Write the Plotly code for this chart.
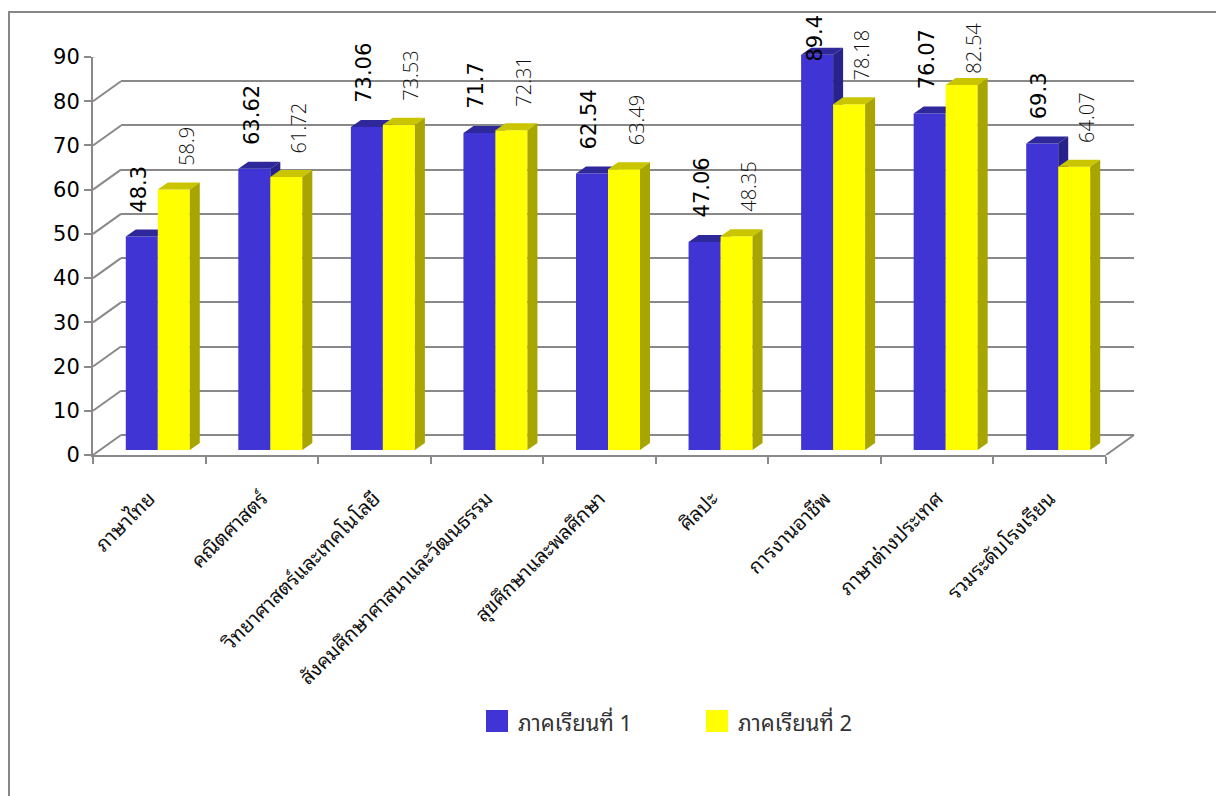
import plotly.graph_objects as go

# ---------------- data ----------------
categories = ["ภาษาไทย", "คณิตศาสตร์", "วิทยาศาสตร์และเทคโนโลยี",
              "สังคมศึกษาศาสนาและวัฒนธรรม", "สุขศึกษาและพลศึกษา", "ศิลปะ",
              "การงานอาชีพ", "ภาษาต่างประเทศ", "รวมระดับโรงเรียน"]
term1 = [48.3, 63.62, 73.06, 71.7, 62.54, 47.06, 89.4, 76.07, 69.3]
term2 = [58.9, 61.72, 73.53, 72.31, 63.49, 48.35, 78.18, 82.54, 64.07]
series_names = ["ภาคเรียนที่ 1", "ภาคเรียนที่ 2"]
y_ticks = list(range(0, 91, 10))

# ---------------- style / geometry ----------------
W, H = 1216, 796
PX_Y = 398 / 90.0          # pixels per value unit
PX_X = 1013 / 9.0          # pixels per category
FRONT = (93, 455)          # front plane origin (px)
BACK = (121, 435)          # back wall origin (px)
MID = (101.5, 450)         # plane the bars stand on (px)

BLUE = dict(front="#4034D4", top="#2E289A", side="#28238A")
YEL = dict(front="#FFFF00", top="#C9C500", side="#A8A400")
GRID = "#898989"
THAI = ("Tahoma, 'Noto Sans Thai Looped', Loma, Garuda, Waree, Norasi, "
        "'Noto Sans Thai', 'Leelawadee UI', sans-serif")
NUM = "'DejaVu Sans', sans-serif"

bw = 32 / PX_X             # bar width in category units
dx = 10 / PX_X             # depth offset x
dy = 7 / PX_Y              # depth offset y

def px_domain_x(x0, units):
    return [x0 / W, (x0 + units * PX_X) / W]

def px_domain_y(y0, units):
    return [1 - y0 / H, 1 - (y0 - units * PX_Y) / H]

fig = go.Figure()

def faces(vals, left_off):
    fx, fy, tx, ty, sx, sy = [], [], [], [], [], []
    for i, v in enumerate(vals):
        a = i + left_off
        b = a + bw
        fx += [a, a, b, b, a, None]; fy += [0, v, v, 0, 0, None]
        tx += [a, b, b + dx, a + dx, a, None]; ty += [v, v, v + dy, v + dy, v, None]
        sx += [b, b, b + dx, b + dx, b, None]; sy += [0, v, v + dy, dy, 0, None]
    return (fx, fy), (tx, ty), (sx, sy)

for vals, off, col, name in [(term1, -bw, BLUE, series_names[0]),
                             (term2, 0.0, YEL, series_names[1])]:
    fr, tp, sd = faces(vals, off)
    for (xs, ys), c in [(fr, col["front"]), (tp, col["top"]), (sd, col["side"])]:
        fig.add_trace(go.Scatter(x=xs, y=ys, xaxis="x3", yaxis="y3", mode="lines",
                                 fill="toself", fillcolor=c, line=dict(width=0),
                                 hoverinfo="skip", showlegend=False, name=name))

# invisible traces to establish the category axis and the back-wall subplot
fig.add_trace(go.Scatter(x=categories, y=term1, xaxis="x", yaxis="y", mode="markers",
                         marker=dict(opacity=0), hoverinfo="skip", showlegend=False))
fig.add_trace(go.Scatter(x=list(range(len(categories))), y=term2, xaxis="x2", yaxis="y2",
                         mode="markers", marker=dict(opacity=0), hoverinfo="skip",
                         showlegend=False))

# ---------------- axes ----------------
fig.update_layout(
    width=W, height=H, autosize=False,
    margin=dict(l=0, r=0, t=0, b=0, pad=0, autoexpand=False),
    paper_bgcolor="white", plot_bgcolor="rgba(0,0,0,0)",
    hovermode=False, showlegend=False,
    xaxis=dict(domain=px_domain_x(FRONT[0], 9), range=[-0.5, 8.5], type="category",
               anchor="y", showline=True, linecolor=GRID, linewidth=2,
               ticks="outside", ticklen=7, tickcolor=GRID, tickwidth=2,
               tickson="boundaries", tickangle=-45, showgrid=False, automargin=False,
               ticklabelstandoff=22,
               tickfont=dict(family=THAI, size=20, color="#111111")),
    yaxis=dict(domain=px_domain_y(FRONT[1], 90), range=[0, 90], tickvals=y_ticks,
               anchor="x", showline=True, linecolor=GRID, linewidth=2,
               ticks="outside", ticklen=7, tickcolor=GRID, tickwidth=2,
               showgrid=False, zeroline=False, automargin=False,
               tickfont=dict(family=NUM, size=21, color="#000000")),
    xaxis2=dict(domain=px_domain_x(BACK[0], 9), range=[-0.5, 8.5], anchor="y2",
                showticklabels=False, ticks="", showline=False, showgrid=False,
                zeroline=False, automargin=False),
    yaxis2=dict(domain=px_domain_y(BACK[1], 90), range=[0, 90], tickvals=y_ticks,
                anchor="x2", showticklabels=False, ticks="", showline=False,
                showgrid=True, gridcolor=GRID, gridwidth=2, automargin=False,
                zeroline=True, zerolinecolor=GRID, zerolinewidth=2),
    xaxis3=dict(domain=px_domain_x(MID[0], 9.3), range=[-0.5, 8.8], anchor="y3",
                visible=False, automargin=False),
    yaxis3=dict(domain=px_domain_y(MID[1], 100), range=[0, 100], anchor="x3",
                visible=False, automargin=False),
)

# left wall / floor diagonals linking front axis to back wall
shapes = []
ddx, ddy = BACK[0] - FRONT[0], FRONT[1] - BACK[1]
for t in y_ticks:
    shapes.append(dict(type="line", xref="paper", yref="y",
                       xsizemode="pixel", ysizemode="pixel",
                       xanchor=FRONT[0] / W, yanchor=t,
                       x0=0, x1=ddx, y0=0, y1=ddy,
                       line=dict(color=GRID, width=2)))
shapes.append(dict(type="line", xref="paper", yref="y",
                   xsizemode="pixel", ysizemode="pixel",
                   xanchor=(FRONT[0] + 9 * PX_X) / W, yanchor=0,
                   x0=0, x1=ddx, y0=0, y1=ddy,
                   line=dict(color=GRID, width=2)))
# chart frame
shapes.append(dict(type="rect", xref="paper", yref="paper",
                   x0=9 / W, x1=1.02, y0=-0.02, y1=1 - 12 / H,
                   line=dict(color="#878787", width=2), fillcolor="rgba(0,0,0,0)",
                   layer="below"))

# manual legend
leg_sq = [(486, 710), (706, 710)]
leg_cols = [BLUE["front"], YEL["front"]]
annotations = []
for (lx, ly), c, nm in zip(leg_sq, leg_cols, series_names):
    shapes.append(dict(type="rect", xref="paper", yref="paper",
                       x0=lx / W, x1=(lx + 22) / W, y0=1 - (ly + 22) / H, y1=1 - ly / H,
                       line=dict(width=0), fillcolor=c))
    annotations.append(dict(xref="paper", yref="paper", x=(lx + 30) / W,
                            y=1 - (ly + 11) / H, xanchor="left", yanchor="middle",
                            text=nm, showarrow=False,
                            font=dict(family=THAI, size=22, color="#333333")))

# value labels
def add_labels(vals, xoff, xshift, fnt):
    for i, v in enumerate(vals):
        txt = f"{v:g}"
        top_px = MID[1] - v * PX_Y
        shift = 22
        est_len = 11.5 * len(txt)
        if top_px - shift - est_len < 18:
            shift = top_px - est_len - 18
        annotations.append(dict(xref="x3", yref="y3", x=i + xoff, y=v,
                                text=txt, showarrow=False, textangle=-90,
                                xanchor="center", yanchor="bottom",
                                yshift=shift, xshift=xshift, font=fnt))

add_labels(term1, -bw / 2, -3, dict(family=NUM, size=21, color="#000000"))
add_labels(term2, bw / 2, 12, dict(family="'Open Sans', sans-serif", size=20,
                                   color="#111111", weight=300))

fig.update_layout(shapes=shapes, annotations=annotations)
fig.write_html("out.html", config={"displayModeBar": False},
               post_script="document.body.style.margin='0px';"
                           "document.body.style.overflow='hidden';")
